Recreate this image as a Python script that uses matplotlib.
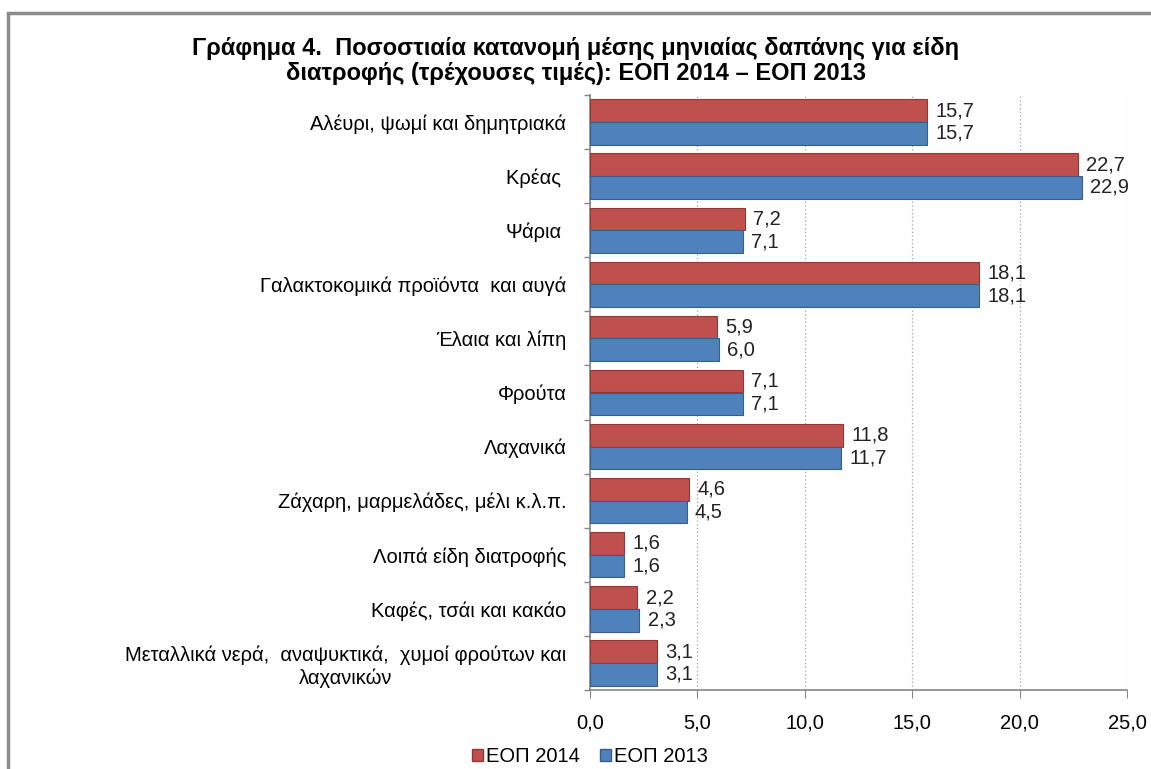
import matplotlib.pyplot as plt
from matplotlib.patches import Rectangle, Patch
import numpy as np

plt.rcParams['font.family'] = ['Liberation Sans', 'DejaVu Sans']

categories = [
    'Αλέυρι, ψωμί και δημητριακά',
    'Κρέας ',
    'Ψάρια ',
    'Γαλακτοκομικά προϊόντα  και αυγά',
    'Έλαια και λίπη',
    'Φρούτα',
    'Λαχανικά',
    'Ζάχαρη, μαρμελάδες, μέλι κ.λ.π.',
    'Λοιπά είδη διατροφής',
    'Καφές, τσάι και κακάο',
    'Μεταλλικά νερά,  αναψυκτικά,  χυμοί φρούτων και\nλαχανικών',
]
eop2014 = [15.7, 22.7, 7.2, 18.1, 5.9, 7.1, 11.8, 4.6, 1.6, 2.2, 3.1]
eop2013 = [15.7, 22.9, 7.1, 18.1, 6.0, 7.1, 11.7, 4.5, 1.6, 2.3, 3.1]
xticks = [0, 5, 10, 15, 20, 25]

red = '#C0504D'
blue = '#4F81BD'
fs = 14.5

fig = plt.figure(figsize=(11.51, 7.69), dpi=100)
ax = fig.add_axes([590 / 1151, 1 - 690 / 769, 537 / 1151, 595 / 769])

y = np.arange(len(categories))
h = 0.42
ax.barh(y - h / 2, eop2014, height=h, color=red, edgecolor='#943634', linewidth=0.8, label='ΕΟΠ 2014', zorder=3)
ax.barh(y + h / 2, eop2013, height=h, color=blue, edgecolor='#385D8A', linewidth=0.8, label='ΕΟΠ 2013', zorder=3)

for i in range(len(categories)):
    ax.annotate(f'{eop2014[i]:.1f}'.replace('.', ','), (eop2014[i], y[i] - h / 2),
                xytext=(6, 0), textcoords='offset points', va='center', ha='left', fontsize=fs, color='#222222')
    ax.annotate(f'{eop2013[i]:.1f}'.replace('.', ','), (eop2013[i], y[i] + h / 2),
                xytext=(6, 0), textcoords='offset points', va='center', ha='left', fontsize=fs, color='#222222')

ax.set_ylim(len(categories) - 0.5, -0.5)
ax.set_xlim(0, 25)
ax.set_yticks(y)
ax.set_yticklabels(categories, fontsize=fs, multialignment='center')
ax.set_yticks(np.arange(-0.5, len(categories), 1), minor=True)
ax.tick_params(axis='y', which='major', length=0, pad=17)
ax.tick_params(axis='y', which='minor', length=4.5, color='#868686', width=1)

ax.set_xticks(xticks)
ax.set_xticklabels([f'{v:.1f}'.replace('.', ',') for v in xticks], fontsize=fs)
ax.tick_params(axis='x', length=6, color='#868686', pad=11)
ax.grid(axis='x', linestyle=(0, (1, 2)), color='#A0A0A0', linewidth=0.9, zorder=0)

for s in ['top', 'right']:
    ax.spines[s].set_visible(False)
for s in ['left', 'bottom']:
    ax.spines[s].set_color('#868686')
    ax.spines[s].set_linewidth(1.2)

fig.text(0.5, 1 - 61 / 769, 'Γράφημα 4.  Ποσοστιαία κατανομή μέσης μηνιαίας δαπάνης για είδη\nδιατροφής (τρέχουσες τιμές): ΕΟΠ 2014 – ΕΟΠ 2013',
         ha='center', va='center', fontsize=17, fontweight='bold', linespacing=1.1)

fig.patches.append(Rectangle((8 / 1151, -0.1), 1.2, 1 - 13 / 769 + 0.1, transform=fig.transFigure,
                             fill=False, edgecolor='#8C8C8C', linewidth=2.5))

handles = [Patch(facecolor=red, edgecolor='#943634'), Patch(facecolor=blue, edgecolor='#385D8A')]
fig.legend(handles, ['ΕΟΠ 2014', 'ΕΟΠ 2013'], loc='center', bbox_to_anchor=(590 / 1151, 1 - 757 / 769),
           ncol=2, frameon=False, fontsize=fs, handlelength=0.55, handleheight=0.55, handletextpad=0.15,
           columnspacing=1.0, borderpad=0)

fig.savefig('out.png', dpi=100)
